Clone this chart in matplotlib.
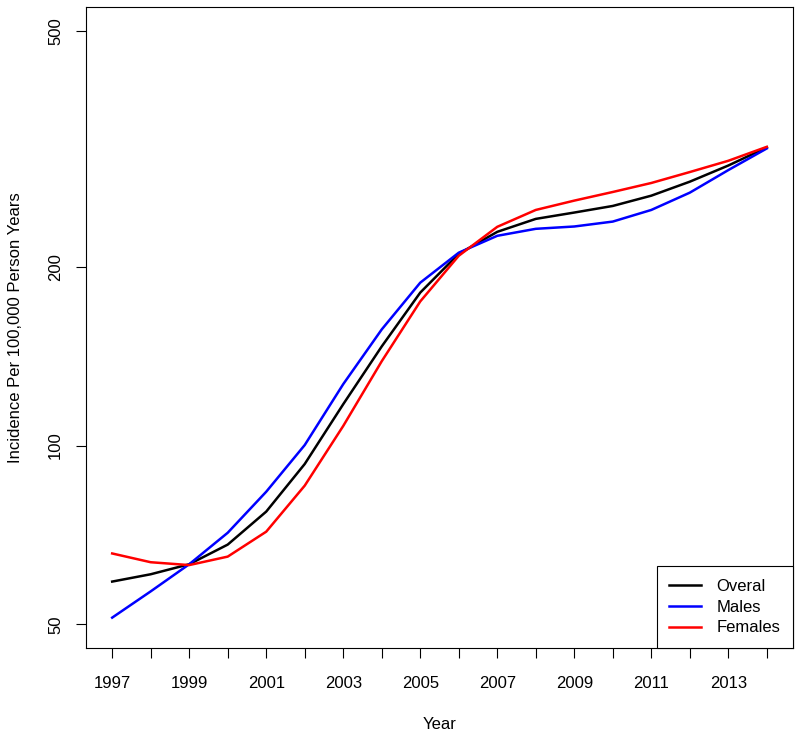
import numpy as np
import matplotlib
matplotlib.use('Agg')
from matplotlib import pyplot as plt
from matplotlib.ticker import FixedLocator, NullLocator

plt.rcParams['font.family'] = ['Liberation Sans', 'DejaVu Sans']

# Data (incidence per 100,000 person years)
years = list(range(1997, 2015))
overall = [59.0, 60.7, 63.1, 68.1, 77.4, 93.1, 117.4, 146.9, 181.0, 210.4,
           229.1, 240.9, 246.9, 253.3, 263.6, 278.3, 296.3, 317.9]
males = [51.3, 56.8, 63.1, 71.3, 83.6, 100.2, 126.9, 156.9, 188.1, 211.3,
         225.6, 231.8, 233.9, 238.4, 249.4, 266.7, 291.1, 316.6]
females = [65.8, 63.6, 62.9, 65.0, 71.6, 85.6, 107.9, 138.7, 174.9, 208.8,
           233.6, 249.4, 258.6, 267.4, 276.9, 288.9, 301.8, 318.6]
series_names = ['Overal', 'Males', 'Females']
series_colors = ['black', 'blue', 'red']
y_ticks = [50, 100, 200, 500]
x_labels = list(range(1997, 2014, 2))

fig = plt.figure(figsize=(8.0, 7.37), dpi=100)
ax = fig.add_axes([86 / 800, 89 / 737, 707 / 800, 641 / 737])

for vals, name, col in zip([overall, males, females], series_names, series_colors):
    ax.plot(years, vals, color=col, lw=1.8, label=name)

ax.set_yscale('log')
ax.set_ylim(45.6, 548)
ax.set_xlim(1996.32, 2014.68)

ax.yaxis.set_major_locator(FixedLocator(y_ticks))
ax.yaxis.set_minor_locator(NullLocator())
ax.set_yticklabels([str(v) for v in y_ticks], rotation=90, va='center')
ax.set_xticks(years)
ax.set_xticklabels([str(y) if y in x_labels else '' for y in years])
ax.tick_params(axis='both', direction='out', length=7.5, width=0.8,
               labelsize=12)
ax.tick_params(axis='x', pad=12.5)
ax.tick_params(axis='y', pad=9)

for sp in ax.spines.values():
    sp.set_linewidth(0.8)

ax.set_xlabel('Year', fontsize=12, labelpad=19)
ax.set_ylabel('Incidence Per 100,000 Person Years', fontsize=12, labelpad=18)

leg = ax.legend(loc='lower right', borderaxespad=0, fancybox=False,
                framealpha=1, edgecolor='black', fontsize=12,
                handlelength=1.9, handletextpad=0.95, borderpad=0.75,
                labelspacing=0.35)
leg.get_frame().set_linewidth(0.8)

fig.savefig('out.png', dpi=100)
